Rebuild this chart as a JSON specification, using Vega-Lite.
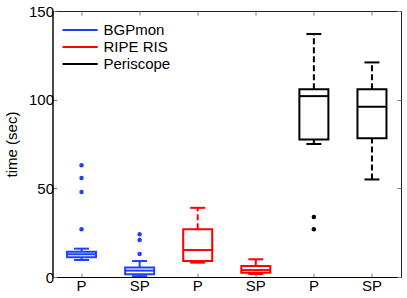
{
  "$schema": "https://vega.github.io/schema/vega-lite/v6.json",
  "width": 348.5,
  "height": 266,
  "autosize": {"type": "none"},
  "padding": {"left": 52.5, "top": 11, "right": 6, "bottom": 21},
  "config": {
    "font": "Liberation Sans",
    "view": {"stroke": "#222", "strokeWidth": 1},
    "axis": {
      "grid": false,
      "domainColor": "#000",
      "domainWidth": 1,
      "tickColor": "#777",
      "tickSize": -4,
      "tickWidth": 1,
      "labelFontSize": 15,
      "labelColor": "#000",
      "titleFontSize": 15,
      "titleFontWeight": "normal",
      "titleColor": "#000",
      "labelFont": "Liberation Sans",
      "titleFont": "Liberation Sans"
    }
  },
  "datasets": {
    "boxes": [
      {"box": "BGPmon / P", "source": "BGPmon", "lo": 9.6, "q1": 11.1, "med": 12.8, "q3": 14.3, "hi": 16},
      {"box": "BGPmon / SP", "source": "BGPmon", "lo": 0.5, "q1": 1.5, "med": 3.6, "q3": 5.3, "hi": 9},
      {"box": "RIPE RIS / P", "source": "RIPE RIS", "lo": 8.1, "q1": 9.0, "med": 15.2, "q3": 26.9, "hi": 39},
      {"box": "RIPE RIS / SP", "source": "RIPE RIS", "lo": 1.7, "q1": 2.4, "med": 3.9, "q3": 6.2, "hi": 10},
      {"box": "Periscope / P", "source": "Periscope", "lo": 75, "q1": 77.6, "med": 102, "q3": 105.9, "hi": 137},
      {"box": "Periscope / SP", "source": "Periscope", "lo": 55, "q1": 78.2, "med": 96, "q3": 105.9, "hi": 121}
    ],
    "outliers": [
      {"box": "BGPmon / P", "source": "BGPmon", "time": 63},
      {"box": "BGPmon / P", "source": "BGPmon", "time": 55.8},
      {"box": "BGPmon / P", "source": "BGPmon", "time": 47.9},
      {"box": "BGPmon / P", "source": "BGPmon", "time": 26.9},
      {"box": "BGPmon / SP", "source": "BGPmon", "time": 24.1},
      {"box": "BGPmon / SP", "source": "BGPmon", "time": 20.9},
      {"box": "BGPmon / SP", "source": "BGPmon", "time": 13},
      {"box": "Periscope / P", "source": "Periscope", "time": 33.8},
      {"box": "Periscope / P", "source": "Periscope", "time": 26.9}
    ]
  },
  "layer": [
    {
      "encoding": {
        "x": {
          "field": "box",
          "type": "nominal",
          "scale": {
            "domain": ["BGPmon / P", "BGPmon / SP", "RIPE RIS / P", "RIPE RIS / SP", "Periscope / P", "Periscope / SP"],
            "paddingInner": 0,
            "paddingOuter": 0
          },
          "axis": {"orient": "bottom", "labelExpr": "split(datum.label, ' / ')[1]", "labelAngle": 0, "labelPadding": 5, "title": null}
        }
      },
      "layer": [
        {
          "data": {"name": "boxes"},
          "mark": {"type": "bar", "size": 29, "filled": false, "strokeWidth": 2},
          "encoding": {
            "y": {"field": "q1", "type": "quantitative", "title": "time (sec)", "scale": {"domain": [0, 150], "nice": false}, "axis": {"values": [0, 50, 100, 150], "labelPadding": 3, "titlePadding": 9}},
            "y2": {"field": "q3"},
            "stroke": {
              "field": "source",
              "type": "nominal",
              "scale": {"domain": ["BGPmon", "RIPE RIS", "Periscope"], "range": ["#2040ff", "#ff0000", "#000000"]},
              "legend": {
                "orient": "none",
                "legendX": 9,
                "legendY": 10,
                "title": null,
                "symbolType": "M-1,0H3.4",
                "symbolSize": 256,
                "symbolStrokeWidth": 2,
                "labelOffset": 24,
                "labelFontSize": 15,
                "labelColor": "#000",
                "rowPadding": -0.5,
                "padding": 0
              }
            }
          }
        },
        {
          "data": {"name": "boxes"},
          "mark": {"type": "rule", "strokeWidth": 2, "strokeDash": [6, 3]},
          "encoding": {
            "y": {"field": "q3", "type": "quantitative", "title": "time (sec)", "scale": {"domain": [0, 150], "nice": false}},
            "y2": {"field": "hi"},
            "stroke": {"field": "source", "type": "nominal", "scale": {"domain": ["BGPmon", "RIPE RIS", "Periscope"], "range": ["#2040ff", "#ff0000", "#000000"]}}
          }
        },
        {
          "data": {"name": "boxes"},
          "mark": {"type": "rule", "strokeWidth": 2, "strokeDash": [6, 3]},
          "encoding": {
            "y": {"field": "lo", "type": "quantitative", "title": "time (sec)", "scale": {"domain": [0, 150], "nice": false}},
            "y2": {"field": "q1"},
            "stroke": {"field": "source", "type": "nominal", "scale": {"domain": ["BGPmon", "RIPE RIS", "Periscope"], "range": ["#2040ff", "#ff0000", "#000000"]}}
          }
        },
        {
          "data": {"name": "boxes"},
          "mark": {"type": "tick", "orient": "horizontal", "size": 29, "thickness": 2, "opacity": 1},
          "encoding": {
            "y": {"field": "med", "type": "quantitative", "title": "time (sec)", "scale": {"domain": [0, 150], "nice": false}},
            "fill": {"field": "source", "type": "nominal", "scale": {"domain": ["BGPmon", "RIPE RIS", "Periscope"], "range": ["#2040ff", "#ff0000", "#000000"]}, "legend": null}
          }
        },
        {
          "data": {"name": "boxes"},
          "mark": {"type": "tick", "orient": "horizontal", "size": 15, "thickness": 2, "opacity": 1},
          "encoding": {
            "y": {"field": "hi", "type": "quantitative", "title": "time (sec)", "scale": {"domain": [0, 150], "nice": false}},
            "fill": {"field": "source", "type": "nominal", "scale": {"domain": ["BGPmon", "RIPE RIS", "Periscope"], "range": ["#2040ff", "#ff0000", "#000000"]}, "legend": null}
          }
        },
        {
          "data": {"name": "boxes"},
          "mark": {"type": "tick", "orient": "horizontal", "size": 15, "thickness": 2, "opacity": 1},
          "encoding": {
            "y": {"field": "lo", "type": "quantitative", "title": "time (sec)", "scale": {"domain": [0, 150], "nice": false}},
            "fill": {"field": "source", "type": "nominal", "scale": {"domain": ["BGPmon", "RIPE RIS", "Periscope"], "range": ["#2040ff", "#ff0000", "#000000"]}, "legend": null}
          }
        },
        {
          "data": {"name": "outliers"},
          "mark": {"type": "circle", "size": 20, "opacity": 1},
          "encoding": {
            "y": {"field": "time", "type": "quantitative", "title": "time (sec)", "scale": {"domain": [0, 150], "nice": false}},
            "fill": {"field": "source", "type": "nominal", "scale": {"domain": ["BGPmon", "RIPE RIS", "Periscope"], "range": ["#2040ff", "#ff0000", "#000000"]}, "legend": null}
          }
        }
      ]
    },
    {
      "data": {"name": "boxes"},
      "mark": {"type": "point", "opacity": 0},
      "encoding": {
        "x": {
          "field": "box",
          "type": "nominal",
          "scale": {
            "domain": ["BGPmon / P", "BGPmon / SP", "RIPE RIS / P", "RIPE RIS / SP", "Periscope / P", "Periscope / SP"],
            "paddingInner": 0,
            "paddingOuter": 0
          },
          "axis": {"orient": "top", "labels": false, "domain": false, "title": null}
        },
        "y": {
          "field": "med",
          "type": "quantitative",
          "scale": {"domain": [0, 150], "nice": false},
          "axis": {"orient": "right", "labels": false, "domain": false, "title": null, "values": [0, 50, 100, 150]}
        }
      }
    }
  ],
  "resolve": {"scale": {"x": "independent", "y": "independent"}}
}
